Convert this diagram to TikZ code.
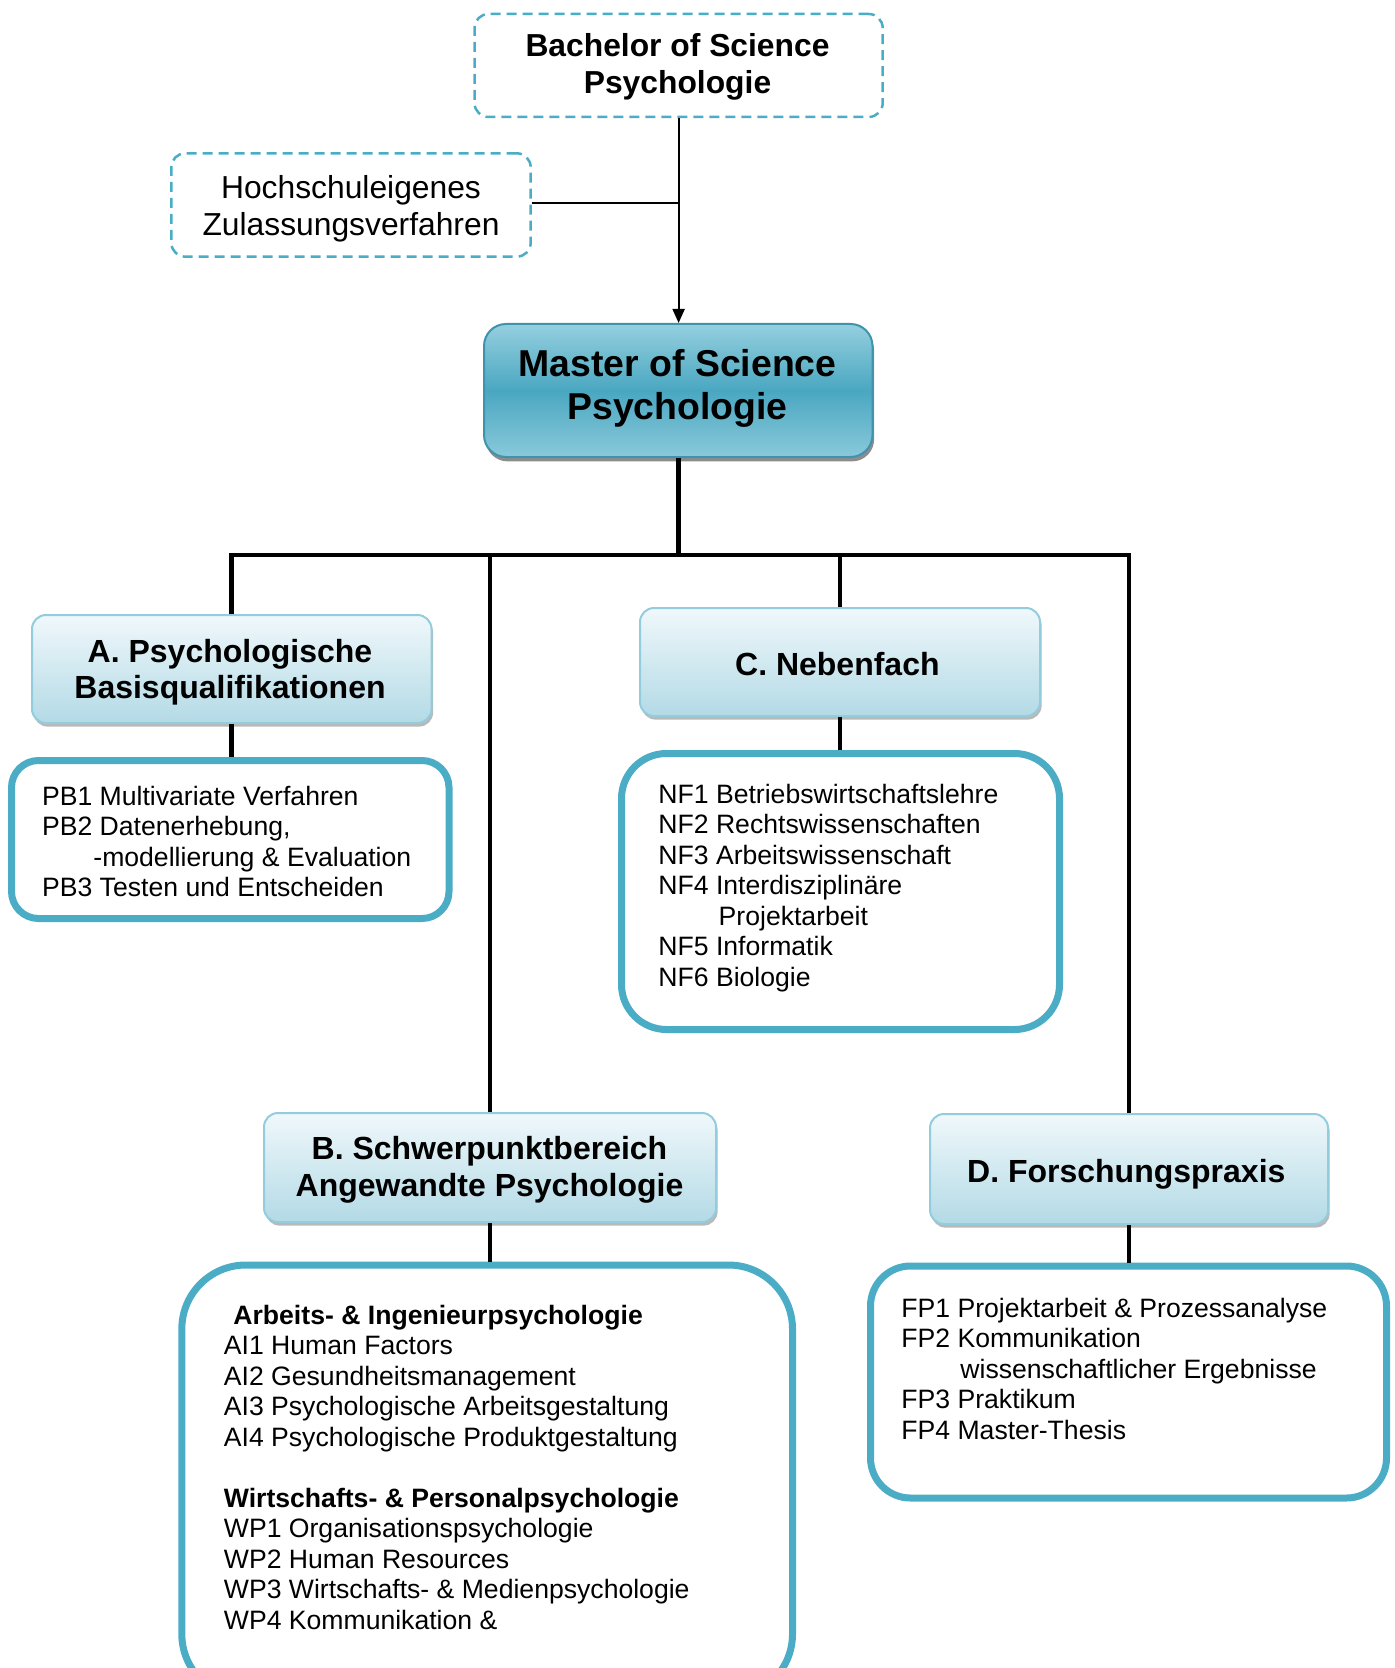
\documentclass[tikz,border=0pt]{standalone}
\usepackage{fontspec}
\setmainfont{Liberation Sans}
\usetikzlibrary{shadows,arrows.meta,fit}
\definecolor{tealc}{HTML}{4BACC6}
\definecolor{hdrtop}{HTML}{F0F8FB}
\definecolor{hdrbot}{HTML}{B3DAE6}
\definecolor{hdrline}{HTML}{93CCDC}
\definecolor{mtop}{HTML}{95CFDF}
\definecolor{mmid}{HTML}{4AA7C1}
\definecolor{mline}{HTML}{3F93AD}
\begin{document}
\begin{tikzpicture}[x=0.5pt,y=-0.5pt,
  dashbox/.style={draw=tealc, line width=1.25pt, dash pattern=on 5pt off 3pt, rounded corners=7pt, inner sep=0pt},
  hdrbox/.style={draw=hdrline, line width=1pt, rounded corners=7pt, inner sep=0pt,
    top color=hdrtop, bottom color=hdrbot,
    drop shadow={shadow xshift=0.8pt, shadow yshift=-1.8pt, fill=black!55, opacity=0.5}},
  mastbox/.style={draw=mline, line width=1pt, rounded corners=11pt, inner sep=0pt,
    top color=mtop, bottom color=mtop!85!mmid, middle color=mmid,
    drop shadow={shadow xshift=0.8pt, shadow yshift=-2.2pt, fill=black!75, opacity=0.6}},
  listbox/.style={draw=tealc, line width=3.5pt, fill=white, inner sep=0pt},
  hdrtxt/.style={font=\bfseries\fontsize{16}{18.35}\selectfont, align=center, anchor=base, inner sep=0pt},
  bodytxt/.style={font=\fontsize{13.3}{15.25}\selectfont, align=left, anchor=base west, inner sep=0pt},
  thinline/.style={line width=1pt, draw=black},
  thickline/.style={line width=2.3pt, draw=black}
]
\useasboundingbox (0,0) rectangle (1394,1668);
\clip (0,0) rectangle (1394,1668);

% top dashed boxes (text anchors are at the baseline of the last line)
\node[dashbox, fit={(474.5,14) (882.7,117)}] (bach) {};
\node[font=\bfseries\fontsize{15.9}{18.65}\selectfont, align=center, anchor=base, inner sep=0pt] (bachtxt) at (677.5,94) {Bachelor of Science\\Psychologie};

\node[dashbox, fit={(171.3,153.3) (530.7,256.7)}] (hoch) {};
\node[font=\fontsize{15.9}{18.6}\selectfont, align=center, anchor=base, inner sep=0pt] (hochtxt) at (351,236) {Hochschuleigenes\\Zulassungsverfahren};

% master box
\node[mastbox, fit={(484,324) (872.5,457)}] (master) {};
\node[font=\bfseries\fontsize{18.7}{21.65}\selectfont, align=center, anchor=base, inner sep=0pt] (mastxt) at (677.5,420) {Master of Science\\Psychologie};

% header boxes
\node[hdrbox, fit={(32,615) (431.5,723)}] (A) {};
\node[hdrtxt] (Atxt) at (230,698.7) {A. Psychologische\\Basisqualifikationen};

\node[hdrbox, fit={(640,608) (1040,716)}] (C) {};
\node[hdrtxt] (Ctxt) at (837.4,675) {C. Nebenfach};

\node[hdrbox, fit={(264,1113) (716,1222)}] (B) {};
\node[hdrtxt] (Btxt) at (489.5,1196.2) {B. Schwerpunktbereich\\Angewandte Psychologie};

\node[hdrbox, fit={(930,1114) (1328,1224)}] (D) {};
\node[hdrtxt] (Dtxt) at (1126.3,1182.5) {D. Forschungspraxis};

% list boxes
\node[listbox, rounded corners=13.5pt, fit={(11.5,760.5) (449,918.5)}] (Alist) {};
\node[listbox, rounded corners=22.5pt, fit={(621.5,753.5) (1059.5,1029.5)}] (Clist) {};
\node[listbox, rounded corners=20pt, fit={(870.5,1266) (1386.5,1498)}] (Dlist) {};
\node[listbox, rounded corners=32pt, fit={(181.8,1265) (792.5,1698)}] (Blist) {};

\node[bodytxt] (Aitems) at (41.7,896.5) {PB1 Multivariate Verfahren\\PB2 Datenerhebung,\\\hspace*{25.65pt}-modellierung \& Evaluation\\PB3 Testen und Entscheiden};

\node[bodytxt] (Citems) at (658,986.3) {NF1 Betriebswirtschaftslehre\\NF2 Rechtswissenschaften\\NF3 Arbeitswissenschaft\\NF4 Interdisziplinäre\\\hspace*{30.15pt}Projektarbeit\\NF5 Informatik\\NF6 Biologie};

\node[bodytxt] (Ditems) at (901,1439) {FP1 Projektarbeit \& Prozessanalyse\\FP2 Kommunikation\\\hspace*{29.5pt}wissenschaftlicher Ergebnisse\\FP3 Praktikum\\FP4 Master-Thesis};

\node[bodytxt] (Bitems) at (223.5,1629) {\hspace*{4.75pt}\textbf{Arbeits- \& Ingenieurpsychologie}\\AI1 Human Factors\\AI2 Gesundheitsmanagement\\AI3 Psychologische Arbeitsgestaltung\\AI4 Psychologische Produktgestaltung\\[15.25pt]\textbf{Wirtschafts- \& Personalpsychologie}\\WP1 Organisationspsychologie\\WP2 Human Resources\\WP3 Wirtschafts- \& Medienpsychologie\\WP4 Kommunikation \&};

% connectors
\draw[thinline, -{Triangle[width=6pt,length=7pt]}] (bach.south) -- (bach.south |- master.north);
\draw[thinline] ([yshift=1pt]hoch.east) -- ([yshift=1pt]hoch.east -| bach.south);

\coordinate (bus) at (master.south |- 0,555);
\draw[thickline] (master.south) -- (bus);
\draw[thickline] (A.north) |- (bus) -| (D.north);
\draw[thickline] (B.north) -- (B.north |- bus);
\draw[thickline] (C.north) -- (C.north |- bus);

\draw[thickline] (A.south) -- (A.south |- Alist.north);
\draw[thickline] (C.south) -- (C.south |- Clist.north);
\draw[thickline] (B.south) -- (B.south |- Blist.north);
\draw[thickline] (D.south) -- (D.south |- Dlist.north);
\end{tikzpicture}
\end{document}
